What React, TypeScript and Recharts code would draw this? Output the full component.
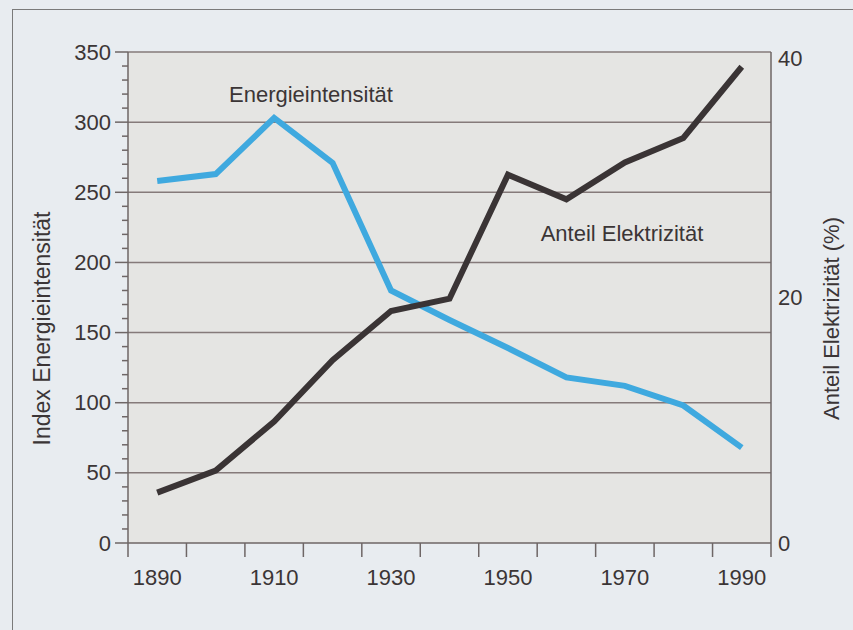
import React from 'react';
import { LineChart, Line, XAxis, YAxis, CartesianGrid, ReferenceLine, ReferenceDot } from 'recharts';

const years = [1890, 1900, 1910, 1920, 1930, 1940, 1950, 1960, 1970, 1980, 1990];
const energieintensitaet = [258, 263, 303, 271, 180, 159, 139, 118, 112, 98, 68];
const anteilElektrizitaet = [4.1, 5.9, 9.9, 14.9, 18.9, 19.9, 30.0, 28.0, 31.0, 33.0, 38.8];

const xTickMarks = [1885, 1895, 1905, 1915, 1925, 1935, 1945, 1955, 1965, 1975, 1985, 1995];
const xTickLabels = [1890, 1910, 1930, 1950, 1970, 1990];
const leftMinorTicks = [0, 10, 20, 30, 40, 50, 60, 70, 80, 90, 100, 110, 120, 130, 140, 150, 160, 170, 180, 190, 200, 210, 220, 230, 240, 250, 260, 270, 280, 290, 300, 310, 320, 330, 340, 350];
const leftMajorTicks = [0, 50, 100, 150, 200, 250, 300, 350];
const rightTicks = [0, 20, 40];

const TEXT = '#3b3536';
const AXIS = '#6e6666';
const FONT = '"Liberation Sans", Arial, sans-serif';

const data = years.map((year, i) => ({
  year,
  energie: energieintensitaet[i],
  anteil: anteilElektrizitaet[i],
}));

const xTicks = [...xTickMarks, ...xTickLabels].sort((a, b) => a - b);

const XTick = ({ x, y, payload }) => {
  const v = payload.value;
  return (
    <g>
      {xTickMarks.includes(v) && <line x1={x} x2={x} y1={y} y2={y + 14} stroke={AXIS} strokeWidth={1.5} />}
      {xTickLabels.includes(v) && (
        <text x={x} y={y + 34} textAnchor="middle" dominantBaseline="central" fill={TEXT} fontSize={22} fontFamily={FONT}>
          {v}
        </text>
      )}
    </g>
  );
};

const LeftTick = ({ x, y, payload }) => {
  const v = payload.value;
  const major = leftMajorTicks.includes(v);
  return (
    <g>
      <line x1={x - (major ? 13 : 6)} x2={x} y1={y} y2={y} stroke={AXIS} strokeWidth={1.5} />
      {major && (
        <text x={x - 17} y={y} textAnchor="end" dominantBaseline="central" fill={TEXT} fontSize={22} fontFamily={FONT}>
          {v}
        </text>
      )}
    </g>
  );
};

const RightTick = ({ x, y, payload }) => (
  <text x={x + 7} y={y + (payload.value === 40 ? 6 : 0)} textAnchor="start" dominantBaseline="central" fill={TEXT} fontSize={22} fontFamily={FONT}>
    {payload.value}
  </text>
);

const leftTitle = ({ viewBox }) => {
  const cx = viewBox.x + 42;
  const cy = viewBox.y + viewBox.height / 2 + 31;
  return (
    <text x={cx} y={cy} transform={`rotate(-90 ${cx} ${cy})`} textAnchor="middle" dominantBaseline="central" fill={TEXT} fontSize={23} fontFamily={FONT}>
      Index Energieintensität
    </text>
  );
};

const rightTitle = ({ viewBox }) => {
  const cx = viewBox.x + 60;
  const cy = viewBox.y + viewBox.height / 2 + 21;
  return (
    <text x={cx} y={cy} transform={`rotate(-90 ${cx} ${cy})`} textAnchor="middle" dominantBaseline="central" fill={TEXT} fontSize={22} fontFamily={FONT}>
      Anteil Elektrizität (%)
    </text>
  );
};

export default function App() {
  return (
    <div style={{ position: 'absolute', left: 0, top: 0, width: 853, height: 630, background: '#e8ecf0', overflow: 'hidden' }}>
      <div style={{ position: 'absolute', left: 12, top: 9, width: 860, height: 640, borderTop: '1.5px solid #7a7a7a', borderLeft: '1.5px solid #7a7a7a' }} />
      <div style={{ position: 'absolute', left: 0, top: 0 }}>
        <LineChart width={853} height={630} data={data} margin={{ top: 52, right: 0, bottom: 0, left: 0 }}>
          <CartesianGrid yAxisId="left" horizontal={false} vertical={false} fill="#e5e5e3" fillOpacity={1} />
          <XAxis
            dataKey="year"
            type="number"
            domain={[1885, 1995]}
            ticks={xTicks}
            interval={0}
            tick={<XTick />}
            tickSize={0}
            tickMargin={0}
            height={87}
            axisLine={{ stroke: AXIS, strokeWidth: 1.5 }}
          />
          <YAxis
            yAxisId="left"
            orientation="left"
            domain={[0, 350]}
            ticks={leftMinorTicks}
            interval={0}
            tick={<LeftTick />}
            tickSize={0}
            tickMargin={0}
            width={128}
            axisLine={{ stroke: AXIS, strokeWidth: 1.5 }}
            label={leftTitle}
          />
          <YAxis
            yAxisId="right"
            orientation="right"
            domain={[0, 40]}
            ticks={rightTicks}
            interval={0}
            tick={<RightTick />}
            tickSize={0}
            tickMargin={0}
            width={82}
            axisLine={{ stroke: AXIS, strokeWidth: 1.5 }}
            label={rightTitle}
          />
          {leftMajorTicks.filter((v) => v > 0).map((v) => (
            <ReferenceLine key={v} yAxisId="left" y={v} stroke="#857a7a" strokeWidth={1.5} />
          ))}
          <Line
            yAxisId="left"
            dataKey="energie"
            stroke="#3fa9df"
            strokeWidth={6}
            strokeLinejoin="miter"
            dot={false}
            activeDot={false}
            isAnimationActive={false}
          />
          <Line
            yAxisId="right"
            dataKey="anteil"
            stroke="#3a3435"
            strokeWidth={6}
            strokeLinejoin="miter"
            dot={false}
            activeDot={false}
            isAnimationActive={false}
          />
          <ReferenceDot
            yAxisId="left"
            x={1916.3}
            y={320}
            r={0}
            fill="none"
            stroke="none"
            label={{ value: 'Energieintensität', position: 'center', fill: TEXT, fontSize: 22, fontFamily: FONT }}
          />
          <ReferenceDot
            yAxisId="left"
            x={1969.5}
            y={221}
            r={0}
            fill="none"
            stroke="none"
            label={{ value: 'Anteil Elektrizität', position: 'center', fill: TEXT, fontSize: 22, fontFamily: FONT }}
          />
        </LineChart>
      </div>
    </div>
  );
}
